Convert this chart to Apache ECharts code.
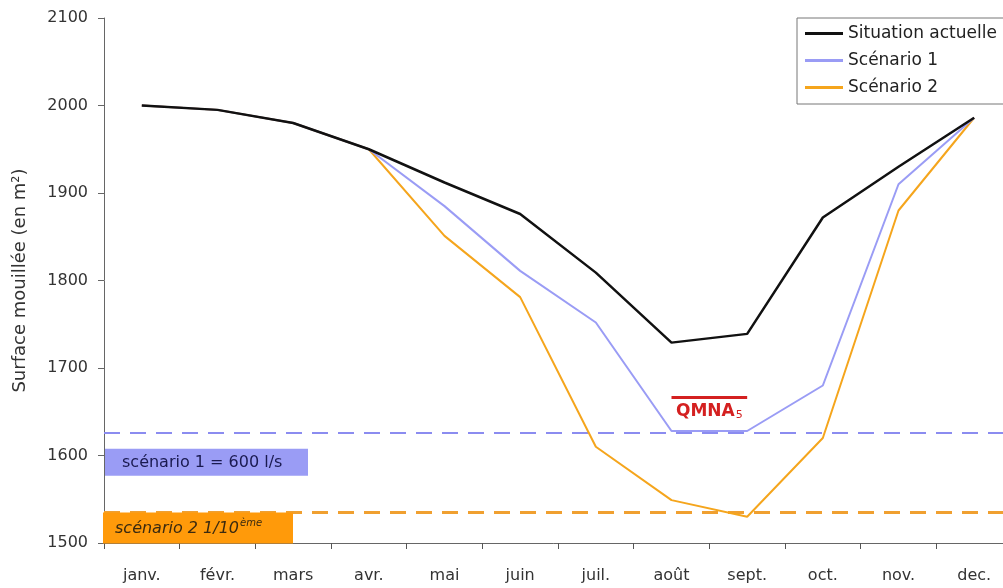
<!DOCTYPE html>
<html><head><meta charset="utf-8">
<script src="https://cdn.jsdelivr.net/npm/echarts@6/dist/echarts.min.js"></script>
<style>html,body{margin:0;padding:0;background:#fff}#c{width:1003px;height:588px}</style>
</head><body><div id="c"></div>
<script>
var months = ['janv.','févr.','mars','avr.','mai','juin','juil.','août','sept.','oct.','nov.','dec.'];
var actuelle = [2000,1995,1980,1950,1912,1876,1809,1729,1739,1872,1930,1986];
var scen1 = [2000,1995,1980,1950,1885,1811,1752,1628,1628,1680,1910,1986];
var scen2 = [2000,1995,1980,1950,1851,1781,1610,1549,1530,1620,1880,1986];
var seuil1 = 1626;
var seuil2 = 1535;
var qmna5 = 1667;
var qmnaRange = ['août','sept.'];
var yTicks = [1500,1600,1700,1800,1900,2000,2100];

var font = 'DejaVu Sans, Liberation Sans, sans-serif';
var chart = echarts.init(document.getElementById('c'));
chart.setOption({
  animation:false,
  backgroundColor:'#fff',
  textStyle:{fontFamily:font},
  grid:{left:104, top:18, bottom:45, width:908, outerBoundsMode:'none', containLabel:false},
  legend:{
    orient:'vertical', left:797, top:18,
    backgroundColor:'#fff', borderColor:'#777', borderWidth:1,
    padding:[7,70,8,8], itemGap:10, itemWidth:38, itemHeight:3, icon:'rect',
    textStyle:{fontFamily:font, fontSize:17, color:'#222'},
    data:['Situation actuelle','Scénario 1','Scénario 2']
  },
  xAxis:{
    type:'category', data:months, boundaryGap:true,
    axisLine:{lineStyle:{color:'#666'}},
    axisTick:{show:true, interval:0, alignWithLabel:false, length:6, lineStyle:{color:'#555', width:1}},
    axisLabel:{fontFamily:font, fontSize:16, color:'#333', margin:25, interval:0}
  },
  yAxis:{
    type:'value', min:yTicks[0], max:yTicks[yTicks.length-1], interval:100,
    name:'Surface mouillée (en m²)', nameLocation:'middle', nameGap:75,
    nameTextStyle:{fontFamily:font, fontSize:18, color:'#333'},
    axisLine:{show:true, lineStyle:{color:'#666'}},
    axisTick:{show:true, length:6, lineStyle:{color:'#666'}},
    axisLabel:{fontFamily:font, fontSize:16, color:'#333', margin:16, formatter:function(v){return String(v);}},
    splitLine:{show:false}
  },
  series:[
    {name:'Scénario 2', type:'line', data:scen2, showSymbol:false, symbol:'none',
     lineStyle:{color:'#f5a51c', width:2}, itemStyle:{color:'#f5a51c'}, z:3,
     markLine:{silent:true, symbol:'none', z:1,
       lineStyle:{color:'#f0a030', type:[16,10], width:3},
       label:{show:true, position:'insideStartBottom', distance:[-1,0],
         formatter:'{a|scénario 2 1/10}{b|ème}',
         backgroundColor:'#ff9a0a', padding:[6,0,5,12], width:178,
         rich:{a:{fontFamily:font, fontSize:16, fontStyle:'italic', color:'#3a2a10'},
               b:{fontFamily:font, fontSize:10, fontStyle:'italic', color:'#3a2a10', verticalAlign:'top', padding:[0,0,10,1]}}},
       data:[{yAxis:seuil2}]}},
    {name:'Scénario 1', type:'line', data:scen1, showSymbol:false, symbol:'none',
     lineStyle:{color:'#9a9cf5', width:2}, itemStyle:{color:'#9a9cf5'}, z:4,
     markLine:{silent:true, symbol:'none', z:1,
       lineStyle:{color:'#8b8cf0', type:[16,10], width:2},
       label:{show:true, position:'insideStartBottom', distance:[1,16],
         formatter:'scénario 1 = 600 l/s',
         backgroundColor:'#9a9cf5', padding:[6,20,5,17], width:166,
         fontFamily:font, fontSize:16, color:'#1a1a50'},
       data:[{yAxis:seuil1}]}},
    {name:'Situation actuelle', type:'line', data:actuelle, showSymbol:false, symbol:'none',
     lineStyle:{color:'#111', width:2.5}, itemStyle:{color:'#111'}, z:5,
     markLine:{silent:true, symbol:'none',
       lineStyle:{color:'#d42020', type:'solid', width:3},
       label:{show:true, position:'insideMiddleBottom', distance:5,
         formatter:'{a|QMNA}{b|5}',
         rich:{a:{fontFamily:font, fontSize:17, fontWeight:'bold', color:'#d42020'},
               b:{fontFamily:font, fontSize:11, color:'#d42020', verticalAlign:'bottom', padding:[8,0,0,1]}}},
       data:[[{coord:[qmnaRange[0], qmna5]},{coord:[qmnaRange[1], qmna5]}]]}}
  ]
});
</script></body></html>
